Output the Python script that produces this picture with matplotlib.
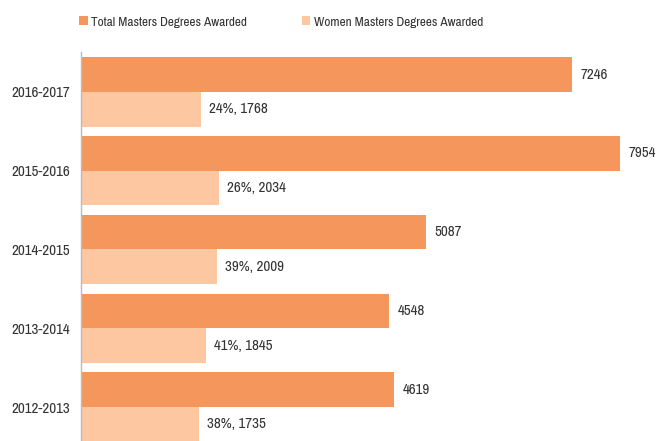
import matplotlib
matplotlib.use("Agg")
import matplotlib.pyplot as plt
from matplotlib import font_manager

years = ["2012-2013", "2013-2014", "2014-2015", "2015-2016", "2016-2017"]
total = [4619, 4548, 5087, 7954, 7246]
women = [1735, 1845, 2009, 2034, 1768]
women_pct = [38, 41, 39, 26, 24]

# pick a condensed font if one is available
fam, stretch = "DejaVu Sans", "normal"
entries = font_manager.fontManager.ttflist
narrow = [f for f in entries if ("Narrow" in f.name or "Condensed" in f.name)]
if narrow:
    fam = narrow[0].name
else:
    cond = [f for f in entries if f.name == "DejaVu Sans" and f.stretch in ("condensed", "semi-condensed", 500, 300)]
    for f in entries:
        if "DejaVuSansCondensed.ttf" in f.fname:
            cond.append(f)
    if cond:
        font_manager.fontManager.addfont(cond[0].fname)
        stretch = "condensed"
        fam = cond[0].name
plt.rcParams["font.family"] = [fam, "DejaVu Sans"]
plt.rcParams["font.stretch"] = stretch

c_total = "#F5975C"
c_women = "#FDC7A2"
txt = "#333333"
fs = 10.8
fs_leg = 9.6

fig = plt.figure(figsize=(6.57, 4.41), dpi=100)
ax = fig.add_axes([81 / 657, 0, 576 / 657, 389 / 441])

h = 0.44
ys = list(range(len(years)))
ax.barh([y + h / 2 for y in ys], total, height=h, color=c_total, label="Total Masters Degrees Awarded")
ax.barh([y - h / 2 for y in ys], women, height=h, color=c_women, label="Women Masters Degrees Awarded")

for y, t, w, p in zip(ys, total, women, women_pct):
    ax.annotate(f"{t}", (t, y + h / 2), xytext=(6, 0), textcoords="offset points",
                va="center", ha="left", fontsize=fs, color=txt)
    ax.annotate(f"{p}%, {w}", (w, y - h / 2), xytext=(6, 0), textcoords="offset points",
                va="center", ha="left", fontsize=fs, color=txt)

ax.set_xlim(0, 8500)
ax.set_ylim(-0.43, 4.506)
ax.set_yticks(ys)
ax.set_yticklabels(years, fontsize=fs, color=txt)
ax.set_xticks([])
ax.tick_params(axis="y", length=0, pad=8)
for s in ["top", "right", "bottom"]:
    ax.spines[s].set_visible(False)
ax.spines["left"].set_color("#BBBBBB")
ax.spines["left"].set_linewidth(1)

leg = fig.legend(loc="center left", bbox_to_anchor=(67 / 657, 1 - 22 / 441), ncol=2,
                 frameon=False, handlelength=0.65, handleheight=0.65, handletextpad=0.25,
                 columnspacing=4.1, fontsize=fs_leg)
for t in leg.get_texts():
    t.set_color(txt)

fig.savefig("out.png", dpi=100)
